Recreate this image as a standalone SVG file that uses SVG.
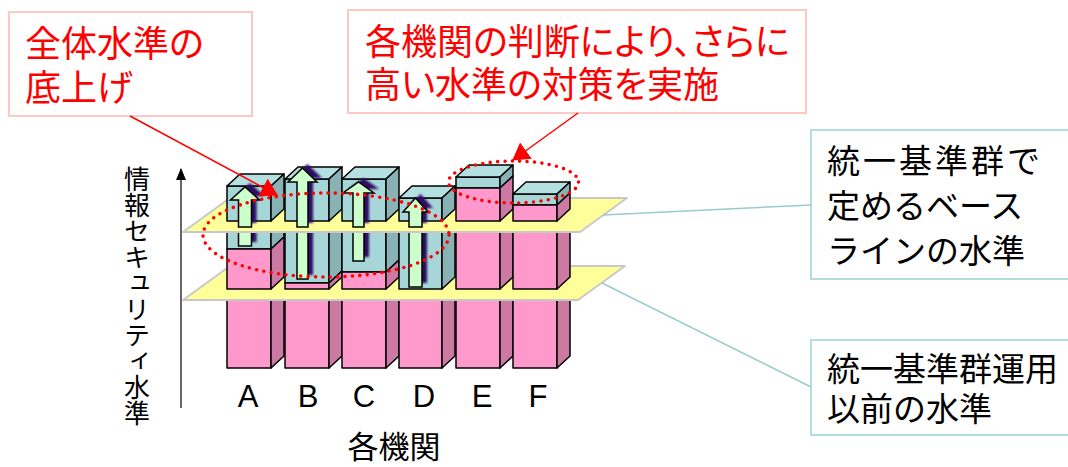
<svg xmlns="http://www.w3.org/2000/svg" xmlns:xlink="http://www.w3.org/1999/xlink" width="1068" height="467" viewBox="0 0 1068 467">
<style>
.pf{fill:#ff99cc;stroke:#000;stroke-width:1.5;stroke-linejoin:round}
.ps{fill:#cc7aa3;stroke:#000;stroke-width:1.5;stroke-linejoin:round}
.tf{fill:#a6d6d8;stroke:#000;stroke-width:1.5;stroke-linejoin:round}
.tt{fill:#b5e0e1;stroke:#000;stroke-width:1.5;stroke-linejoin:round}
.ts{fill:#88b2b3;stroke:#000;stroke-width:1.5;stroke-linejoin:round}
.plane{fill:#ffff99;stroke:#c8c8c8;stroke-width:2;stroke-linejoin:round}
.arr{fill:#ccffcc;stroke:#000;stroke-width:1.5;stroke-linejoin:miter}
.sh{fill:#2f0b63;stroke:none;filter:url(#blur)}
.dots{fill:none;stroke:#ff0000;stroke-width:3.6;stroke-linecap:round;stroke-dasharray:0 7.4}
.cbox{fill:#fff;stroke:#ffc8c8;stroke-width:2}
.lbox{fill:#fff;stroke:#b3dede;stroke-width:2}
.red{fill:#ff0000;font-family:"Liberation Sans","Noto Sans CJK JP",sans-serif;font-size:36px;font-feature-settings:"palt"}
.jp{fill:#000;font-family:"Liberation Sans","Noto Sans CJK JP",sans-serif;font-size:33px}
.cat{fill:#000;font-family:"Liberation Sans",Arial,sans-serif;font-size:31px;text-anchor:middle}
.rline{fill:none;stroke:#ff0000;stroke-width:1.5;marker-end:url(#redhead)}
.tline{fill:none;stroke:#99cccc;stroke-width:1.5}
</style>
<defs>
<filter id="blur" x="-30%" y="-30%" width="160%" height="160%"><feGaussianBlur stdDeviation="1"/></filter>
<marker id="redhead" markerUnits="userSpaceOnUse" viewBox="0 0 17 20" refX="16" refY="10" markerWidth="17" markerHeight="20" orient="auto"><path d="M0,0 L17,10 L0,20 Z" fill="#ff0000"/></marker>
<marker id="axhead" markerUnits="userSpaceOnUse" viewBox="0 0 12 10" refX="11" refY="5" markerWidth="12" markerHeight="10" orient="auto"><path d="M0,0 L12,5 L0,10 Z" fill="#000"/></marker>
<path id="arA" d="M245,187 L259.5,200 L251.5,200 L251.5,227 L238.5,227 L238.5,200 L230.5,200 Z"/>
<path id="arB" d="M302.5,168 L317,182 L308,182 L308,227 L297,227 L297,182 L288,182 Z"/>
<path id="arC" d="M358.5,182 L374,193 L364,193 L364,227 L353,227 L353,193 L343,193 Z"/>
<path id="arD" d="M415.5,198 L428,212 L422,212 L422,227 L409,227 L409,212 L403,212 Z"/>
<rect id="stA" x="238.5" y="226" width="13" height="20"/>
<rect id="stB" x="297" y="226" width="11" height="53"/>
<rect id="stC" x="353" y="226" width="11" height="35"/>
<rect id="stD" x="409" y="226" width="13" height="61"/>
</defs>

<g id="axis">
<line x1="181" y1="408" x2="181" y2="169" stroke="#333" stroke-width="1.5" marker-end="url(#axhead)"/>
<text x="137" y="166" style="writing-mode:vertical-rl" font-family="Noto Sans CJK JP, sans-serif" font-size="26" fill="#000">情報セキュリティ水準</text>
</g>

<g id="bars-lower">
<g id="bar-A-low"><rect class="pf" x="227" y="280" width="44" height="88"/><polygon class="ps" points="271,280 284,268 284,356 271,368"/></g>
<g id="bar-B-low"><rect class="pf" x="285" y="280" width="44" height="88"/><polygon class="ps" points="329,280 342,268 342,356 329,368"/></g>
<g id="bar-C-low"><rect class="pf" x="342" y="280" width="44" height="88"/><polygon class="ps" points="386,280 399,268 399,356 386,368"/></g>
<g id="bar-D-low"><rect class="pf" x="399" y="280" width="43" height="88"/><polygon class="ps" points="442,280 455,268 455,356 442,368"/></g>
<g id="bar-E-low"><rect class="pf" x="456" y="280" width="44" height="88"/><polygon class="ps" points="500,280 513,268 513,356 500,368"/></g>
<g id="bar-F-low"><rect class="pf" x="513" y="280" width="44" height="88"/><polygon class="ps" points="557,280 570,268 570,356 557,368"/></g>
</g>

<g id="plane-before"><polygon class="plane" points="183,300 578,300 625,266 230,266"/></g>

<g id="bars-middle">
<g id="bar-A-mid"><rect class="tf" x="227" y="212" width="44" height="37"/><rect class="pf" x="227" y="249" width="44" height="40"/><polygon class="ts" points="271,212 284,200 284,237 271,249"/><polygon class="ps" points="271,249 284,237 284,277 271,289"/></g>
<g id="bar-B-mid"><rect class="tf" x="285" y="212" width="44" height="71"/><rect class="pf" x="285" y="283" width="44" height="6"/><polygon class="ts" points="329,212 342,200 342,271 329,283"/><polygon class="ps" points="329,283 342,271 342,277 329,289"/></g>
<g id="bar-C-mid"><rect class="tf" x="342" y="212" width="44" height="60"/><rect class="pf" x="342" y="272" width="44" height="17"/><polygon class="ts" points="386,212 399,200 399,260 386,272"/><polygon class="ps" points="386,272 399,260 399,277 386,289"/></g>
<g id="bar-D-mid"><rect class="tf" x="399" y="212" width="43" height="77"/><polygon class="ts" points="442,212 455,200 455,277 442,289"/></g>
<g id="bar-E-mid"><rect class="pf" x="456" y="212" width="44" height="77"/><polygon class="ps" points="500,212 513,200 513,277 500,289"/></g>
<g id="bar-F-mid"><rect class="pf" x="513" y="212" width="44" height="77"/><polygon class="ps" points="557,212 570,200 570,277 557,289"/></g>
<g id="arrows-mid">
<use xlink:href="#stA" class="sh" transform="translate(5,-4)"/><use xlink:href="#stA" class="arr"/>
<use xlink:href="#stB" class="sh" transform="translate(5,-4)"/><use xlink:href="#stB" class="arr"/>
<use xlink:href="#stC" class="sh" transform="translate(5,-4)"/><use xlink:href="#stC" class="arr"/>
<use xlink:href="#stD" class="sh" transform="translate(5,-4)"/><use xlink:href="#stD" class="arr"/>
</g>
</g>

<g id="plane-baseline"><polygon class="plane" points="183,232 580,232 627,198 230,198"/></g>

<g id="bars-top">
<g id="bar-A-top"><rect class="tf" x="227" y="186" width="44" height="35"/><polygon class="tt" points="227,186 240,174 284,174 271,186"/><polygon class="ts" points="271,186 284,174 284,209 271,221"/></g>
<g id="bar-B-top"><rect class="tf" x="285" y="179" width="44" height="42"/><polygon class="tt" points="285,179 298,167 342,167 329,179"/><polygon class="ts" points="329,179 342,167 342,209 329,221"/></g>
<g id="bar-C-top"><rect class="tf" x="342" y="179" width="44" height="42"/><polygon class="tt" points="342,179 355,167 399,167 386,179"/><polygon class="ts" points="386,179 399,167 399,209 386,221"/></g>
<g id="bar-D-top"><rect class="tf" x="399" y="198" width="43" height="23"/><polygon class="tt" points="399,198 412,186 455,186 442,198"/><polygon class="ts" points="442,198 455,186 455,209 442,221"/></g>
<g id="bar-E-top"><rect class="tf" x="456" y="177" width="44" height="11"/><rect class="pf" x="456" y="188" width="44" height="33"/><polygon class="tt" points="456,177 469,165 513,165 500,177"/><polygon class="ts" points="500,177 513,165 513,176 500,188"/><polygon class="ps" points="500,188 513,176 513,209 500,221"/></g>
<g id="bar-F-top"><rect class="tf" x="513" y="194" width="44" height="11"/><rect class="pf" x="513" y="205" width="44" height="16"/><polygon class="tt" points="513,194 526,182 570,182 557,194"/><polygon class="ts" points="557,194 570,182 570,193 557,205"/><polygon class="ps" points="557,205 570,193 570,209 557,221"/></g>
<g id="arrows-top">
<use xlink:href="#arA" class="sh" transform="translate(5,-4)"/><use xlink:href="#arA" class="arr"/>
<use xlink:href="#arB" class="sh" transform="translate(5,-4)"/><use xlink:href="#arB" class="arr"/>
<use xlink:href="#arC" class="sh" transform="translate(5,-4)"/><use xlink:href="#arC" class="arr"/>
<use xlink:href="#arD" class="sh" transform="translate(5,-4)"/><use xlink:href="#arD" class="arr"/>
</g>
</g>

<g id="categories">
<text class="cat" x="248" y="407">A</text>
<text class="cat" x="308" y="407">B</text>
<text class="cat" x="364" y="407">C</text>
<text class="cat" x="424" y="407">D</text>
<text class="cat" x="482" y="407">E</text>
<text class="cat" x="538" y="407">F</text>
<text x="394" y="458" text-anchor="middle" font-family="Noto Sans CJK JP, sans-serif" font-size="31" fill="#000">各機関</text>
</g>

<g id="highlight-all"><ellipse class="dots" cx="326" cy="235" rx="123" ry="42"/></g>
<g id="highlight-extra"><ellipse class="dots" cx="513.5" cy="182" rx="65" ry="21"/></g>

<g id="callout-raise">
<rect class="cbox" x="9" y="12" width="243" height="104"/>
<text class="red" x="25" y="57">全体水準の<tspan x="25" y="101">底上げ</tspan></text>
</g>
<g id="callout-agency">
<rect class="cbox" x="348" y="10" width="458" height="103"/>
<text class="red" x="365" y="55">各機関の判断により、さらに<tspan x="365" y="98">高い水準の対策を実施</tspan></text>
</g>
<g id="label-baseline">
<rect class="lbox" x="811" y="130" width="270" height="149"/>
<text class="jp" x="827" y="173"><tspan letter-spacing="3">統一基準群で</tspan><tspan x="827" y="218">定めるベース</tspan><tspan x="827" y="263">ラインの水準</tspan></text>
</g>
<g id="label-before">
<rect class="lbox" x="811" y="340" width="270" height="95"/>
<text class="jp" x="827" y="381">統一基準群運用<tspan x="827" y="421">以前の水準</tspan></text>
</g>

<g id="connectors">
<path class="rline" d="M130,116 L277,195"/>
<path class="rline" d="M578,113 L513,160"/>
<path class="tline" d="M603,215 L811,205"/>
<path class="tline" d="M602,283 L811,387"/>
</g>
</svg>
